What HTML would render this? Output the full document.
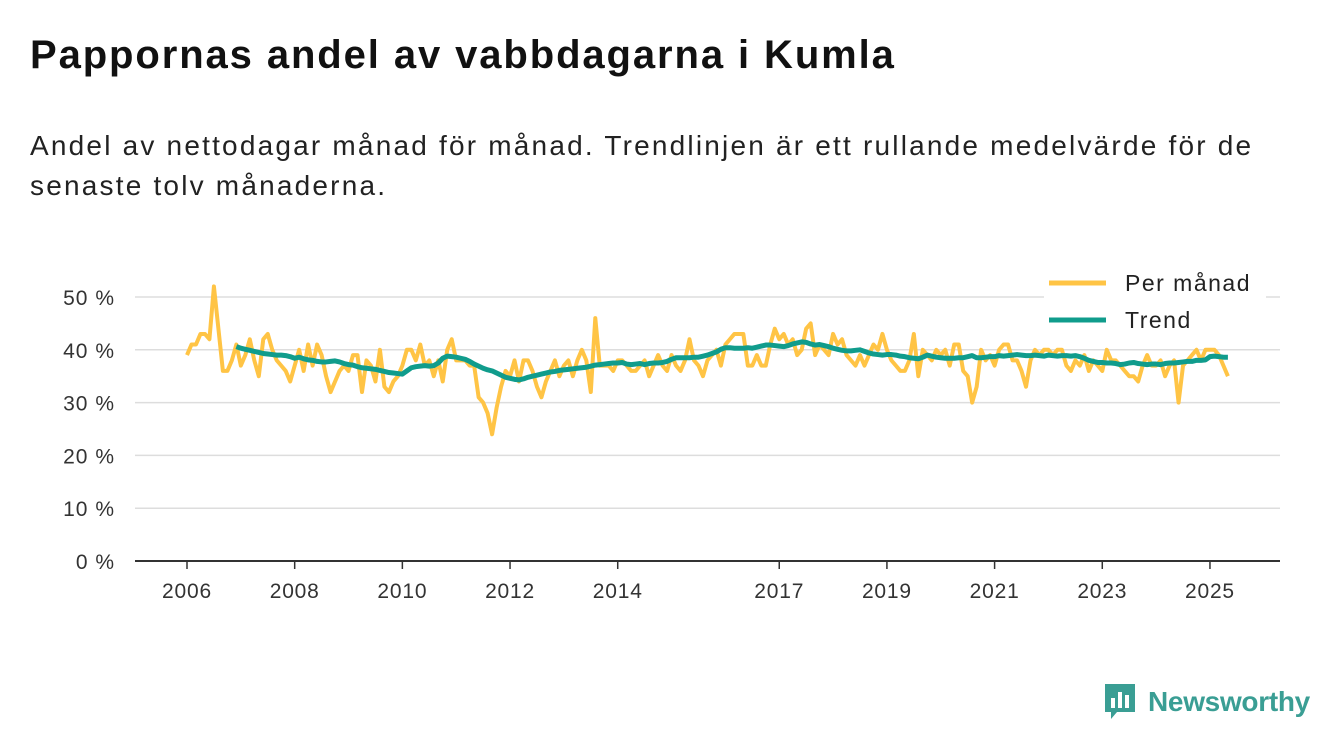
<!DOCTYPE html>
<html><head><meta charset="utf-8">
<style>
body{margin:0;width:1340px;height:753px;background:#fff;font-family:"Liberation Sans",sans-serif;overflow:hidden;position:relative}
h1{position:absolute;left:30px;top:33px;margin:0;font-size:40px;letter-spacing:1.9px;font-weight:bold;color:#111}
.sub{position:absolute;left:30px;top:126px;margin:0;font-size:28px;letter-spacing:2.2px;line-height:40px;color:#222;width:1300px;white-space:nowrap}
svg{position:absolute;left:0;top:0}
.logo{position:absolute;left:1103px;top:682px;display:flex;align-items:center;gap:11px;color:#3a9e94;font-weight:bold;font-size:28px;letter-spacing:-0.3px}
</style></head><body>
<h1>Pappornas andel av vabbdagarna i Kumla</h1>
<p class="sub">Andel av nettodagar månad för månad. Trendlinjen är ett rullande medelvärde för de<br>senaste tolv månaderna.</p>
<svg id="chart" width="1340" height="753"></svg>
<div class="logo">
<svg width="34" height="40" viewBox="0 0 34 40" style="position:static"><path d="M2 2h30v28H14l-6 7v-7H2z" fill="#3a9e94"/><rect x="8" y="16" width="4" height="10" fill="#fff"/><rect x="15" y="10" width="4" height="16" fill="#fff"/><rect x="22" y="13" width="4" height="13" fill="#fff"/></svg>
<span>Newsworthy</span></div>
<script>
const startYear = 2006;
const monthly = [
39,41,41,43,43,42,52,44,36,36,38,41,
37,39,42,38,35,42,43,40,38,37,36,34,
37,40,36,41,37,41,39,35,32,34,36,37,
36,39,39,32,38,37,34,40,33,32,34,35,
37,40,40,38,41,37,38,35,38,34,40,42,
38,38,38,37,37,31,30,28,24,29,33,36,
35,38,34,38,38,36,33,31,34,36,38,35,
37,38,35,38,40,38,32,46,37,37,37,36,
38,38,37,36,36,37,38,35,37,39,37,36,
39,37,36,38,42,38,37,35,38,39,40,37,
41,42,43,43,43,37,37,39,37,37,41,44,
42,43,41,42,39,40,44,45,39,41,40,39,
43,41,42,39,38,37,39,37,39,41,40,43,
40,38,37,36,36,38,43,35,40,39,38,40,
39,40,37,41,41,36,35,30,33,40,38,39,
37,40,41,41,38,38,36,33,38,40,39,40,
40,39,40,40,37,36,38,37,39,36,38,37,
36,40,38,38,37,36,35,35,34,37,39,37,
37,38,35,37,38,30,37,38,39,40,38,40,
40,40,39,37,35];
const trendStart = 11;
const trend = [40.6,
40.3,40.1,39.9,39.7,39.5,39.3,39.2,39.1,39.0,39.0,38.9,38.7,
38.4,38.6,38.3,38.1,38.0,37.8,37.7,37.7,37.8,37.9,37.7,37.4,
37.2,37.1,36.8,36.6,36.5,36.4,36.3,36.1,35.9,35.7,35.6,35.5,
35.4,36.0,36.6,36.8,36.9,37.0,36.9,37.0,37.5,38.4,38.8,38.7,
38.6,38.4,38.2,37.8,37.3,36.9,36.5,36.2,36.0,35.6,35.2,34.8,
34.6,34.4,34.3,34.5,34.8,35.0,35.2,35.4,35.6,35.8,35.9,36.1,
36.2,36.3,36.4,36.5,36.6,36.7,36.9,37.1,37.2,37.3,37.4,37.5,
37.5,37.6,37.3,37.2,37.3,37.4,37.2,37.4,37.5,37.5,37.6,37.8,
38.2,38.5,38.5,38.5,38.5,38.6,38.6,38.8,39.0,39.3,39.6,40.1,
40.4,40.4,40.3,40.3,40.3,40.4,40.3,40.5,40.7,40.9,40.9,40.8,
40.7,40.6,40.8,41.1,41.3,41.5,41.4,41.1,40.9,41.0,40.8,40.6,
40.3,40.1,39.9,39.8,39.8,39.9,40.0,39.7,39.4,39.2,39.1,39.0,
39.1,39.1,39.0,38.8,38.7,38.5,38.4,38.3,38.6,39.0,38.8,38.6,
38.5,38.4,38.4,38.4,38.5,38.5,38.7,38.9,38.5,38.5,38.6,38.7,
38.7,38.9,38.8,38.9,39.0,39.1,39.0,38.9,38.9,39.0,38.9,38.8,
39.0,38.9,38.8,38.9,38.9,38.8,38.9,38.7,38.4,38.0,37.8,37.6,
37.6,37.5,37.5,37.4,37.2,37.3,37.5,37.6,37.4,37.3,37.2,37.3,
37.3,37.2,37.4,37.5,37.5,37.6,37.7,37.8,37.8,38.0,38.0,38.1,
38.7,38.8,38.7,38.6,38.6];
const yTicks = [0,10,20,30,40,50];
const xTicks = [2006,2008,2010,2012,2014,2017,2019,2021,2023,2025];

const NS="http://www.w3.org/2000/svg";
const svg=document.getElementById('chart');
const X0=187, PXY=53.84, Y0=561, PXP=5.28;
const x=i=>X0+(i/12)*PXY;
const xYear=yr=>X0+(yr-startYear)*PXY;
const y=v=>Y0-v*PXP;
function mk(tag,attrs){const e=document.createElementNS(NS,tag);for(const k in attrs)e.setAttribute(k,attrs[k]);svg.appendChild(e);return e;}
yTicks.forEach(t=>{
  const g=mk('line',{x1:135,x2:1280,y1:y(t),y2:y(t),stroke:t===0?'#333':'#ddd','stroke-width':t===0?2:1.5});
  
  
  const l=mk('text',{x:115,y:y(t)+8,'text-anchor':'end','font-size':21,'letter-spacing':1,fill:'#333','font-family':'Liberation Sans, sans-serif'});
  l.textContent=t+' %';
  
  
});
xTicks.forEach(t=>{
  const tk=mk('line',{x1:xYear(t),x2:xYear(t),y1:561,y2:569,stroke:'#333','stroke-width':1.5});
  
  
  const l=mk('text',{x:xYear(t),y:598,'text-anchor':'middle','font-size':21,'letter-spacing':0.8,fill:'#333','font-family':'Liberation Sans, sans-serif'});
  l.textContent=t;
  
  
});
const pm=mk('polyline',{points:monthly.map((v,i)=>x(i)+','+y(v)).join(' '),fill:'none',stroke:'#ffc445','stroke-width':4,'stroke-linejoin':'round'});


const tr=mk('polyline',{points:trend.map((v,i)=>x(i+trendStart)+','+y(v)).join(' '),fill:'none',stroke:'#109c8c','stroke-width':5,'stroke-linejoin':'round'});


const bg=mk('rect',{x:1044,y:264,width:222,height:80,fill:'#fff'});


[['Per månad','#ffc445',283],['Trend','#109c8c',320]].forEach(([n,c,yy])=>{
  const s=mk('line',{x1:1049,x2:1106,y1:yy,y2:yy,stroke:c,'stroke-width':5});
  
  
  const t=mk('text',{x:1125,y:yy+8,'font-size':23,'letter-spacing':1.5,fill:'#222','font-family':'Liberation Sans, sans-serif'});
  t.textContent=n;
  
  
});
</script>
</body></html>
